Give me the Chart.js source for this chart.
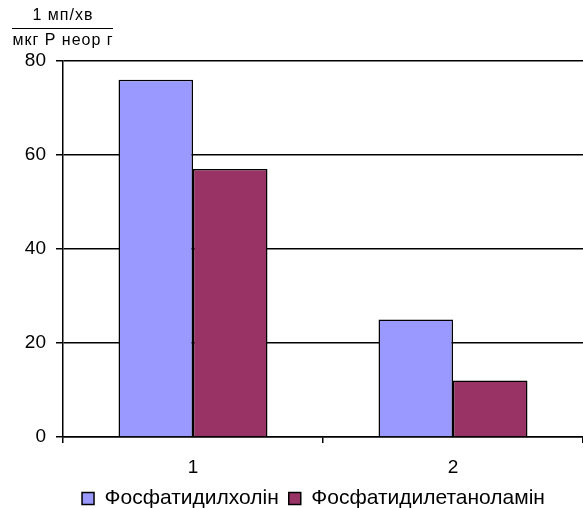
<!DOCTYPE html>
<html>
<head>
<meta charset="utf-8">
<script src="https://cdn.jsdelivr.net/npm/chart.js@4/dist/chart.umd.min.js"></script>
<style>
  html, body { margin: 0; padding: 0; background: #fff; }
  #wrap { width: 583px; height: 508px; position: relative; }
</style>
</head>
<body>
<div id="wrap"><canvas id="lipids-chart"></canvas></div>
<script>
const categories = ['1', '2'];
const seriesNames = ['Фосфатидилхолін', 'Фосфатидилетаноламін'];
const cholineValues = [76, 25];
const ethanolamineValues = [57, 12];
const yTicks = [0, 20, 40, 60, 80];
const unitTop = '1 мп/хв';
const unitBottom = 'мкг Р неор г';

const FONT = '"Liberation Sans", Arial, sans-serif';

// fraction-style unit label above the value axis
const unitLabel = {
    id: 'unitLabel',
    afterDraw(chart) {
        const ctx = chart.ctx;
        ctx.save();
        ctx.fillStyle = '#000';
        ctx.font = '16px ' + FONT;
        ctx.letterSpacing = '1px';
        ctx.textAlign = 'center';
        ctx.textBaseline = 'alphabetic';
        ctx.fillText(unitTop, 63, 20);
        ctx.fillText(unitBottom, 63, 45);
        ctx.strokeStyle = '#000';
        ctx.lineWidth = 1;
        ctx.beginPath();
        ctx.moveTo(12, 28.5);
        ctx.lineTo(113, 28.5);
        ctx.stroke();
        ctx.restore();
    }
};

// move the legend a bit right of the canvas centre
const legendShift = {
    id: 'legendShift',
    afterLayout(chart) {
        const lg = chart.legend;
        if (lg) {
            lg.left += 22;
            lg.right += 22;
        }
    }
};

new Chart(document.getElementById('lipids-chart'), {
    type: 'bar',
    data: {
        labels: categories,
        datasets: [{
            label: seriesNames[0],
            data: cholineValues,
            backgroundColor: '#9999ff',
            borderColor: '#000',
            borderWidth: 1.5
        }, {
            label: seriesNames[1],
            data: ethanolamineValues,
            backgroundColor: '#993366',
            borderColor: '#000',
            borderWidth: 1.5
        }]
    },
    options: {
        responsive: true,
        maintainAspectRatio: false,
        animation: false,
        categoryPercentage: 0.573,
        barPercentage: 1,
        layout: { padding: { top: 61, right: 0, left: 0, bottom: -11 } },
        scales: {
            x: {
                afterFit(scale) {
                    scale.height = 41;
                },
                grid: {
                    offset: true,
                    drawOnChartArea: false,
                    color: '#000',
                    lineWidth: 1.5,
                    tickLength: 6
                },
                border: { color: '#000', width: 1.5 },
                ticks: {
                    color: '#000',
                    padding: 13,
                    font: { family: FONT, size: 19 }
                }
            },
            y: {
                min: 0,
                max: 80,
                afterBuildTicks(scale) {
                    scale.ticks = yTicks.map(v => ({ value: v }));
                },
                afterFit(scale) {
                    scale.width = 63;
                },
                grid: {
                    color: '#000',
                    lineWidth: 1.5,
                    tickLength: 7
                },
                border: { color: '#000', width: 1.5 },
                ticks: {
                    color: '#000',
                    padding: 10,
                    font: { family: FONT, size: 19 }
                }
            }
        },
        plugins: {
            legend: {
                position: 'bottom',
                labels: {
                    color: '#000',
                    boxWidth: 12,
                    boxHeight: 12,
                    padding: 10,
                    font: { family: FONT, size: 21 }
                }
            },
            tooltip: { enabled: false }
        }
    },
    plugins: [unitLabel, legendShift]
});
</script>
</body>
</html>
